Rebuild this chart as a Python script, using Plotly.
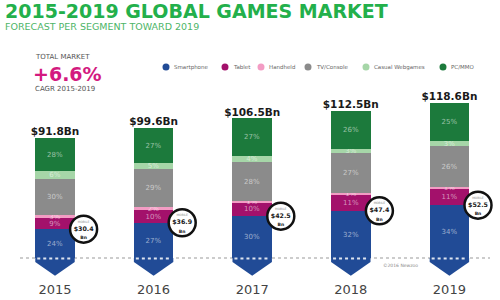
import plotly.graph_objects as go

# ---------------- data ----------------
years = ["2015", "2016", "2017", "2018", "2019"]
totals = [91.8, 99.6, 106.5, 112.5, 118.6]
mobile = [30.4, 36.9, 42.5, 47.4, 52.5]
segments = ["Smartphone", "Tablet", "Handheld", "TV/Console", "Casual Webgames", "PC/MMO"]
smartphone_pct = [24, 27, 30, 32, 34]
tablet_pct = [9, 10, 10, 11, 11]
handheld_pct = [3, 2, 1, 1, 1]
tv_pct = [30, 29, 28, 27, 26]
casual_pct = [6, 5, 4, 3, 3]
pc_pct = [28, 27, 27, 26, 25]
cagr = "+6.6%"

# ---------------- style ----------------
seg_colors = ["#214b96", "#a3116b", "#f39cc4", "#8b8b8b", "#a6d6a8", "#1c7a3c"]
W, H_PLOT = 500, 280
FONT = "DejaVu Sans"

def px_x(p):
    return p / W

def px_y(p):
    return 1 - p / H_PLOT

pct_lists = [smartphone_pct, tablet_pct, handheld_pct, tv_pct, casual_pct, pc_pct]
xs = list(range(len(years)))
bar_w = 0.4

fig = go.Figure()
for name, pcts, col in zip(segments, pct_lists, seg_colors):
    vals = [t * p / 100 for t, p in zip(totals, pcts)]
    fig.add_trace(go.Bar(
        x=xs, y=vals, name=name, width=bar_w, marker=dict(color=col, line=dict(width=0)),
        text=[f"{p}%" for p in pcts], textposition="inside", insidetextanchor="middle",
        constraintext="none", textangle=0,
        textfont=dict(size=7, color="rgba(255,255,255,0.55)", family=FONT),
        showlegend=False, hoverinfo="skip",
    ))

# total labels
fig.add_trace(go.Scatter(
    x=xs, y=totals, mode="text", text=[f"<b>${t}Bn</b>" for t in totals],
    textposition="top center", textfont=dict(size=10.5, color="#1a1a1a", family=FONT),
    showlegend=False, hoverinfo="skip", cliponaxis=False,
))

# mobile bubbles
smart_vals = [t * p / 100 for t, p in zip(totals, smartphone_pct)]
fig.add_trace(go.Scatter(
    x=[x + 0.29 for x in xs], y=smart_vals, mode="markers+text",
    marker=dict(size=27, color="white", line=dict(color="#111", width=2.5)),
    text=[f"<span style='font-size:3px;color:#888'>MOBILE</span><br><b>${m}</b><br><span style='font-size:4.5px'><b>Bn</b></span>" for m in mobile],
    textposition="middle center", textfont=dict(size=6.3, color="#1a1a1a", family=FONT),
    showlegend=False, hoverinfo="skip", cliponaxis=False,
))

shapes = []
# gray dotted baseline
shapes.append(dict(type="line", xref="paper", yref="y", x0=0.04, x1=0.98, y0=0, y1=0,
                   line=dict(color="#cccccc", width=2, dash="dot"), layer="below"))
# chevrons under each bar
h1, h2 = 3.0, 13.5
for x in xs:
    l, r = x - bar_w / 2, x + bar_w / 2
    path = f"M {l},0 L {r},0 L {r},{-h1} L {x},{-h2} L {l},{-h1} Z"
    shapes.append(dict(type="path", xref="x", yref="y", path=path,
                       fillcolor=seg_colors[0], line=dict(width=0), layer="below"))
    shapes.append(dict(type="line", xref="x", yref="y", x0=l + 0.02, x1=r - 0.02, y0=-0.3, y1=-0.3,
                       line=dict(color="rgba(255,255,255,0.85)", width=2, dash="dot"), layer="above"))

annotations = []
# title & subtitle
annotations.append(dict(xref="paper", yref="paper", x=px_x(3), y=px_y(11), xanchor="left", yanchor="middle",
                        text="<b>2015-2019 GLOBAL GAMES MARKET</b>", showarrow=False,
                        font=dict(size=19, color="#23b04b", family=FONT)))
annotations.append(dict(xref="paper", yref="paper", x=px_x(3), y=px_y(27), xanchor="left", yanchor="middle",
                        text="FORECAST PER SEGMENT TOWARD 2019", showarrow=False,
                        font=dict(size=9.5, color="#4db567", family=FONT)))
# total market block
annotations.append(dict(xref="paper", yref="paper", x=px_x(33), y=px_y(57), xanchor="left", yanchor="middle",
                        text="TOTAL MARKET", showarrow=False, font=dict(size=7, color="#555", family=FONT)))
annotations.append(dict(xref="paper", yref="paper", x=px_x(31), y=px_y(74), xanchor="left", yanchor="middle",
                        text=f"<b>{cagr}</b>", showarrow=False, font=dict(size=19, color="#d31a7f", family=FONT)))
annotations.append(dict(xref="paper", yref="paper", x=px_x(33), y=px_y(89), xanchor="left", yanchor="middle",
                        text="CAGR 2015-2019", showarrow=False, font=dict(size=7, color="#555", family=FONT)))
# legend (manual, circles + labels)
leg_x = [166, 225, 261, 308, 366, 443]
for name, col, lx in zip(segments, seg_colors, leg_x):
    shapes.append(dict(type="circle", xref="paper", yref="paper", xsizemode="pixel", ysizemode="pixel",
                       xanchor=px_x(lx), yanchor=px_y(67), x0=-3.5, x1=3.5, y0=-3.5, y1=3.5,
                       fillcolor=col, line=dict(width=0)))
    annotations.append(dict(xref="paper", yref="paper", x=px_x(lx + 6), y=px_y(67), xanchor="left",
                            yanchor="middle", text=name, showarrow=False,
                            font=dict(size=5.5, color="#666", family=FONT)))
# copyright
annotations.append(dict(xref="paper", yref="paper", x=px_x(400), y=px_y(265), xanchor="center", yanchor="middle",
                        text="©2016 Newzoo", showarrow=False, font=dict(size=4.5, color="#888", family=FONT)))

px_per_bn = 1.31
zero_px = 258
fig.update_layout(
    width=W, height=300, margin=dict(l=0, r=0, t=0, b=300 - H_PLOT),
    paper_bgcolor="white", plot_bgcolor="white", barmode="stack", bargap=0,
    xaxis=dict(range=[-55 / 98.6, (W - 55) / 98.6], tickvals=xs, ticktext=years,
               tickfont=dict(size=13, color="#444", family=FONT), showgrid=False, zeroline=False,
               showline=False, ticks=""),
    yaxis=dict(range=[-(H_PLOT - zero_px) / px_per_bn, zero_px / px_per_bn], visible=False,
               showgrid=False, zeroline=False),
    shapes=shapes, annotations=annotations,
)

fig.write_html("out.html")
